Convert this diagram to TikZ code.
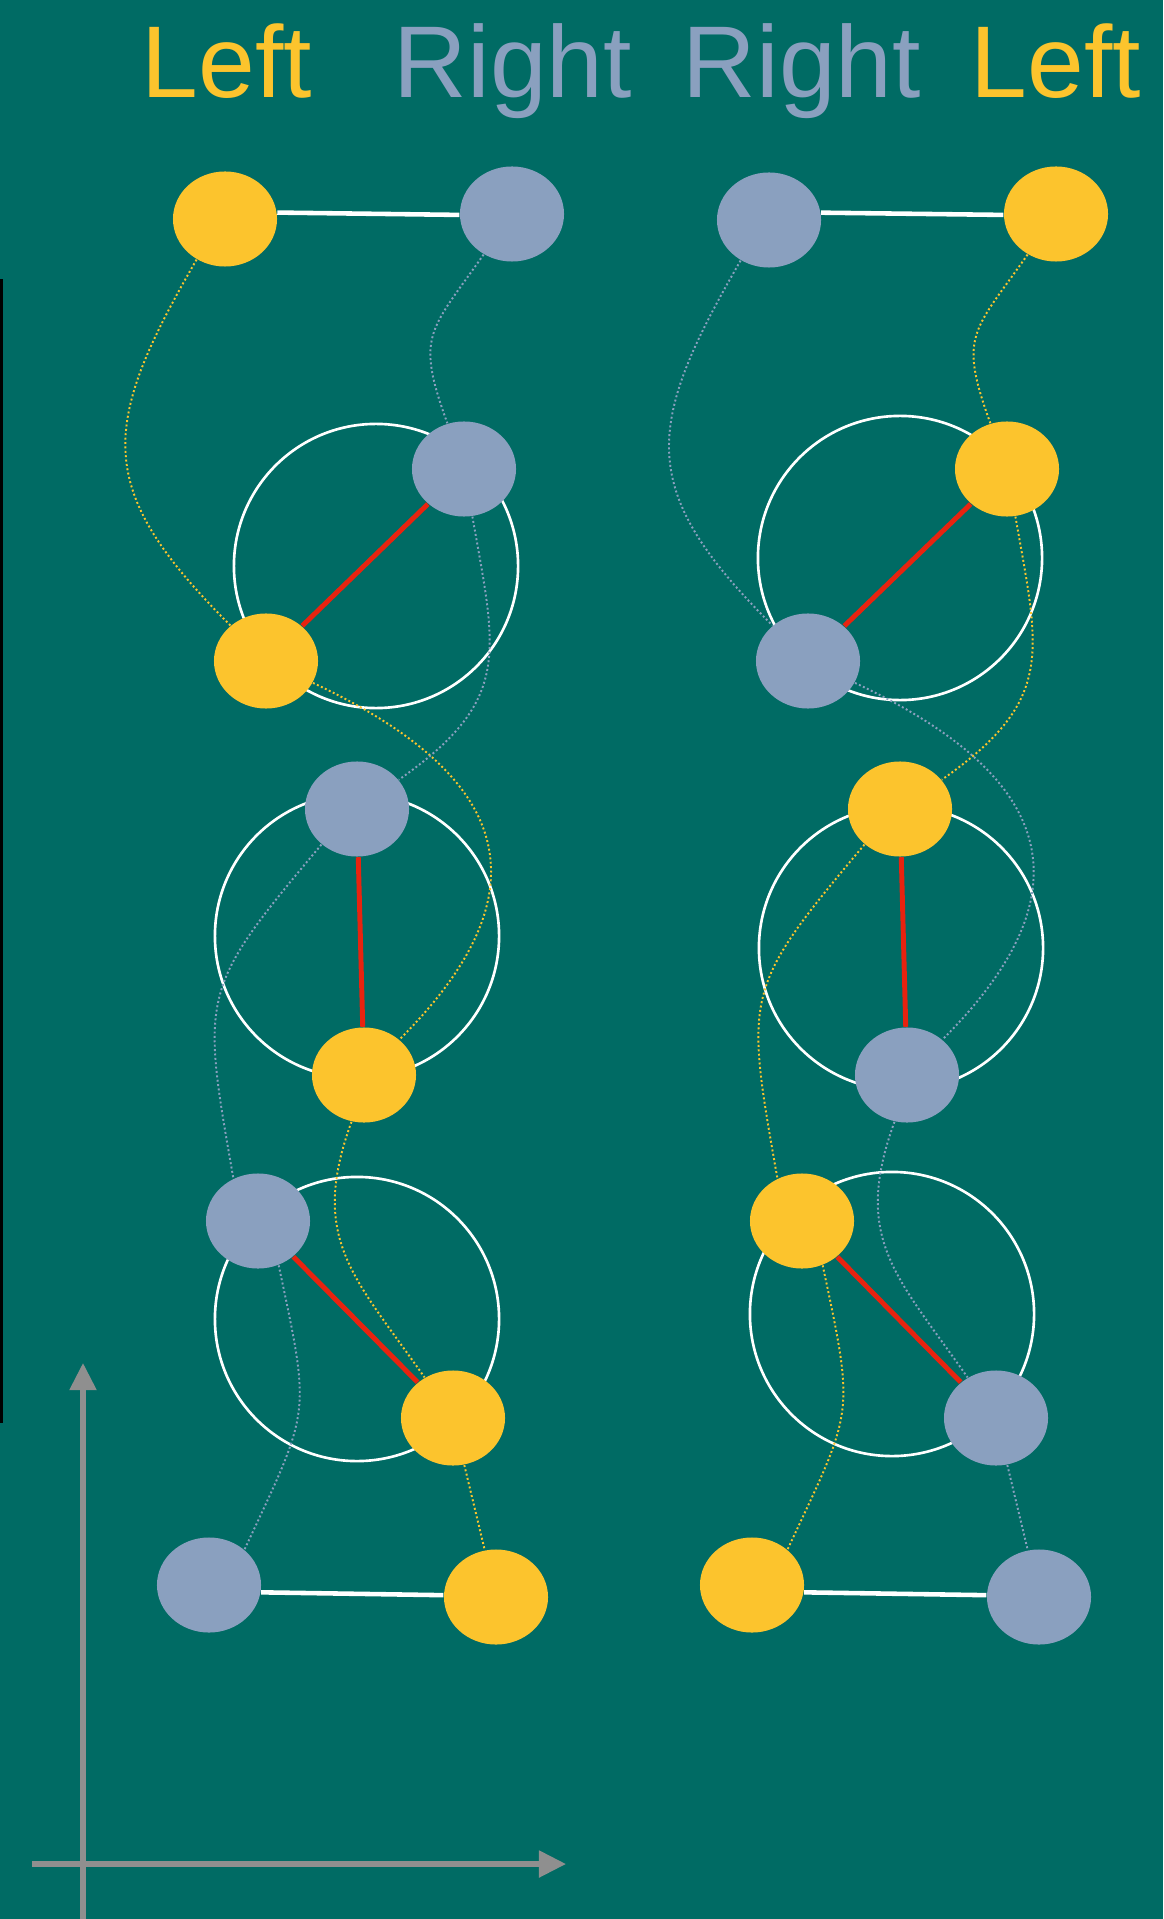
\documentclass[tikz,border=0pt]{standalone}
\usepackage{fontspec}
\newfontfamily\titlefont{Liberation Sans}
\usetikzlibrary{shapes.geometric,arrows.meta}
\definecolor{board}{RGB}{0,107,100}
\definecolor{lefty}{RGB}{252,196,45}
\definecolor{righty}{RGB}{138,160,191}
\definecolor{bond}{RGB}{232,35,15}
\definecolor{axisgray}{RGB}{143,143,143}
\begin{document}
\begin{tikzpicture}[x=0.01cm, y=-0.01cm,
	ball/.style = {ellipse, minimum width=1.04cm, minimum height=0.95cm, inner sep=0pt},
	ring/.style = {circle, draw=white, line width=0.75pt, minimum size=2.84cm, inner sep=0pt},
	trace/.style = {line width=0.55pt, dash pattern=on 0.55pt off 0.7pt},
	link/.style = {white, line width=1.3pt},
	rod/.style = {bond, line width=1.4pt},
	title/.style = {anchor=base, font=\titlefont\fontsize{29}{35}\selectfont}]
	\fill [board] (0,0) rectangle (1163,1919);
	\useasboundingbox (0,0) rectangle (1163,1919);
	\draw [black, line width=0.85pt] (-20,280) rectangle (1.5,1421);
	\node [title, lefty] (tleft1) at (227,98) {Left};
	\node [title, righty] (tright1) at (513,98) {Right};
	\node [title, righty] (tright2) at (802,98) {Right};
	\node [title, lefty] (tleft2) at (1056,98) {Left};
	\node [ring] (lring1) at (376,566) {};
	\node [ring] (lring2) at (357,936) {};
	\node [ring] (lring3) at (357,1319) {};
	\node [ring] (rring1) at (900,558) {};
	\node [ring] (rring2) at (901,948) {};
	\node [ring] (rring3) at (892,1314) {};
	\node [ball, fill=lefty] (ly0) at (225,219) {};
	\node [ball, fill=righty] (lg0) at (512,214) {};
	\node [ball, fill=righty] (lg1) at (464,469) {};
	\node [ball, fill=lefty] (ly1) at (266,661) {};
	\node [ball, fill=righty] (lg2) at (357,809) {};
	\node [ball, fill=lefty] (ly2) at (364,1075) {};
	\node [ball, fill=righty] (lg3) at (258,1221) {};
	\node [ball, fill=lefty] (ly3) at (453,1418) {};
	\node [ball, fill=righty] (lg4) at (209,1585) {};
	\node [ball, fill=lefty] (ly4) at (496,1597) {};
	\node [ball, fill=righty] (rg0) at (769,220) {};
	\node [ball, fill=lefty] (ry0) at (1056,214) {};
	\node [ball, fill=lefty] (ry1) at (1007,469) {};
	\node [ball, fill=righty] (rg1) at (808,661) {};
	\node [ball, fill=lefty] (ry2) at (900,809) {};
	\node [ball, fill=righty] (rg2) at (907,1075) {};
	\node [ball, fill=lefty] (ry3) at (802,1221) {};
	\node [ball, fill=righty] (rg3) at (996,1418) {};
	\node [ball, fill=lefty] (ry4) at (752,1585) {};
	\node [ball, fill=righty] (rg4) at (1039,1597) {};
	\draw [link] (ly0.7) -- (lg0.181);
	\draw [link] (lg4.-8) -- (ly4.178);
	\draw [link] (rg0.8) -- (ry0.181);
	\draw [link] (ry4.-8) -- (rg4.178);
	\draw [rod] (lg1) -- (ly1);
	\draw [rod] (lg2) -- (ly2);
	\draw [rod] (lg3) -- (ly3);
	\draw [rod] (ry1) -- (rg1);
	\draw [rod] (ry2) -- (rg2);
	\draw [rod] (ry3) -- (rg3);
	\draw [trace, lefty] (ly0.235) to [out=240, in=135, looseness=1.35] (ly1.135);
	\draw [trace, lefty] (ly1.-25) to [out=-25, in=45, looseness=1.5] (ly2.45);
	\draw [trace, lefty] (ly2.-105) to [out=-110, in=125, looseness=1.2] (ly3.125);
	\draw [trace, lefty] (ly3) -- (ly4);
	\draw [trace, righty] (lg0.235) to [out=235, in=110, looseness=1.4] (lg1.110);
	\draw [trace, righty] (lg1.-80) to [out=-80, in=35, looseness=1.3] (lg2.35);
	\draw [trace, righty] (lg2.225) to [out=230, in=100, looseness=1.4] (lg3.120);
	\draw [trace, righty] (lg3.-65) to [out=-78, in=65, looseness=1.4] (lg4.45);
	\draw [trace, righty] (rg0.235) to [out=240, in=135, looseness=1.35] (rg1.135);
	\draw [trace, righty] (rg1.-25) to [out=-25, in=45, looseness=1.5] (rg2.45);
	\draw [trace, righty] (rg2.-105) to [out=-110, in=125, looseness=1.2] (rg3.125);
	\draw [trace, righty] (rg3) -- (rg4);
	\draw [trace, lefty] (ry0.235) to [out=235, in=110, looseness=1.4] (ry1.110);
	\draw [trace, lefty] (ry1.-80) to [out=-80, in=35, looseness=1.3] (ry2.35);
	\draw [trace, lefty] (ry2.225) to [out=230, in=100, looseness=1.4] (ry3.120);
	\draw [trace, lefty] (ry3.-65) to [out=-78, in=65, looseness=1.4] (ry4.45);
	\coordinate (ybase) at (83,1925);
	\coordinate (ytip) at (83,1363);
	\coordinate (xbase) at (32,1864);
	\coordinate (xtip) at (566,1864);
	\draw [axisgray, line width=1.45pt, -{Triangle[length=0.27cm, width=0.26cm]}] (ybase) -- (ytip);
	\draw [axisgray, line width=1.45pt, -{Triangle[length=0.27cm, width=0.26cm]}] (xbase) -- (xtip);
\end{tikzpicture}
\end{document}
